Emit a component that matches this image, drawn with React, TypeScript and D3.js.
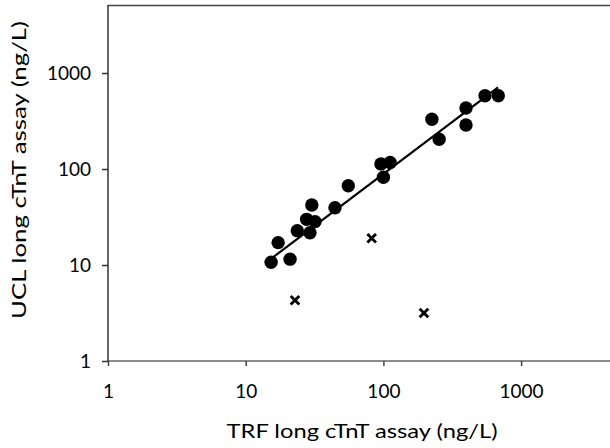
import { useEffect, useRef } from 'react'
import * as d3 from 'd3'

// circles: TRF (x) vs UCL (y), ng/L
const trfValues = [15.3, 21, 17.2, 23.7, 29.3, 27.7, 31.9, 30.2, 44.5, 55.6, 96, 112, 100, 225, 254, 398, 398, 547, 683]
const uclValues = [10.7, 11.5, 17.1, 22.8, 21.7, 29.9, 28.3, 42.2, 39.5, 67, 113, 117, 82, 330, 204, 432, 287, 580, 580]

// excluded points drawn as crosses
const outlierTrf = [22.8, 82.2, 197]
const outlierUcl = [4.3, 19, 3.16]

// fitted line end points
const fitTrf = [15.5, 680]
const fitUcl = [11.8, 710]

const tickValues = [1, 10, 100, 1000]

const xTitle = 'TRF long cTnT assay (ng/L)'
const yTitle = 'UCL long cTnT assay (ng/L)'

export default function App() {
  const ref = useRef<SVGSVGElement>(null)

  useEffect(() => {
    const svg = d3.select(ref.current)
    svg.selectAll('*').remove()

    const W = 610
    const H = 448
    const left = 108
    const bottom = 361
    const font = 'Lato, "Open Sans", sans-serif'

    // one decade is ~137.7px wide and ~96px tall
    const x = d3.scaleLog().domain([1, 10000]).range([left, left + 4 * 137.7])
    const y = d3.scaleLog().domain([1, 10000]).range([bottom, bottom - 4 * 96])

    svg.append('rect').attr('width', W).attr('height', H).attr('fill', '#fff')

    // top frame line
    svg.append('line')
      .attr('x1', left).attr('x2', W)
      .attr('y1', 5.5).attr('y2', 5.5)
      .attr('stroke', '#444').attr('stroke-width', 1.5)

    const xAxis = svg.append('g')
      .attr('transform', `translate(0,${bottom})`)
      .call(d3.axisBottom(x).tickValues(tickValues).tickFormat(d3.format('d')).tickSize(5).tickPadding(19))
    xAxis.select('.domain').attr('stroke', '#666').attr('stroke-width', 1.5)
      .attr('d', `M${left},0H${W}`)
    xAxis.selectAll('.tick line').attr('stroke', '#444').attr('stroke-width', 1.5)
    xAxis.selectAll('.tick text')
      .attr('font-family', font).attr('font-size', 19).attr('fill', '#000')

    const yAxis = svg.append('g')
      .attr('transform', `translate(${left},0)`)
      .call(d3.axisLeft(y).tickValues(tickValues).tickFormat(d3.format('d')).tickSize(6).tickPadding(11))
    yAxis.select('.domain').attr('stroke', '#333').attr('stroke-width', 1.5)
      .attr('d', `M0,${bottom}V5`)
    yAxis.selectAll('.tick line').attr('stroke', '#333').attr('stroke-width', 1.5)
    yAxis.selectAll('.tick text')
      .attr('font-family', font).attr('font-size', 19).attr('fill', '#000')

    // regression line
    const fit = fitTrf.map((v, i) => [v, fitUcl[i]] as [number, number])
    svg.append('path')
      .attr('d', d3.line<[number, number]>().x(d => x(d[0])).y(d => y(d[1]))(fit))
      .attr('stroke', '#000').attr('stroke-width', 2.2).attr('fill', 'none')

    svg.append('g').selectAll('circle')
      .data(trfValues.map((v, i) => [v, uclValues[i]]))
      .enter().append('circle')
      .attr('cx', d => x(d[0]))
      .attr('cy', d => y(d[1]))
      .attr('r', 6.7)
      .attr('fill', '#000')

    const cross = d3.symbol().type(d3.symbolX).size(50)
    svg.append('g').selectAll('path')
      .data(outlierTrf.map((v, i) => [v, outlierUcl[i]]))
      .enter().append('path')
      .attr('transform', d => `translate(${x(d[0])},${y(d[1])})`)
      .attr('d', cross())
      .attr('stroke', '#000').attr('stroke-width', 2.8).attr('fill', 'none')

    svg.append('text')
      .attr('x', 362).attr('y', 438)
      .attr('text-anchor', 'middle')
      .attr('font-family', font).attr('font-size', 20)
      .attr('textLength', 271).attr('lengthAdjust', 'spacingAndGlyphs')
      .text(xTitle)

    svg.append('text')
      .attr('transform', `translate(26,170) rotate(-90)`)
      .attr('text-anchor', 'middle')
      .attr('font-family', font).attr('font-size', 20)
      .attr('textLength', 298).attr('lengthAdjust', 'spacingAndGlyphs')
      .text(yTitle)
  }, [])

  return (
    <svg ref={ref} width={610} height={448}
      style={{ position: 'absolute', left: 0, top: 0, display: 'block' }} />
  )
}
